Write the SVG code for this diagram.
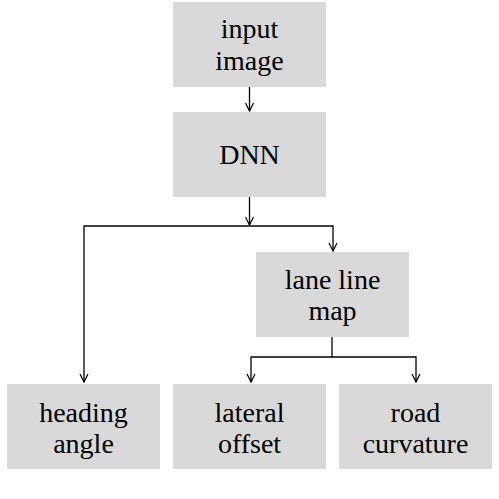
<svg xmlns="http://www.w3.org/2000/svg" width="499" height="499" viewBox="0 0 499 499">
<defs>
<marker id="arr" viewBox="0 0 10 10" refX="9" refY="5" markerWidth="10" markerHeight="10" markerUnits="userSpaceOnUse" orient="auto">
<path d="M1,1 L9,5 L1,9" fill="none" stroke="#000" stroke-width="1.2"/>
</marker>
</defs>
<style>
.box{fill:#d9d9d9;}
.t{font-family:Liberation Serif;font-size:28px;fill:#000;text-anchor:middle;}
.c{fill:none;stroke:#000;stroke-width:1.3;}
</style>
<g id="input">
<rect class="box" x="173" y="2" width="153" height="85"/>
<text class="t" x="249.5" y="38">input</text>
<text class="t" x="249.5" y="70">image</text>
</g>
<g id="dnn">
<rect class="box" x="173" y="112" width="153" height="85"/>
<text class="t" x="249.5" y="164">DNN</text>
</g>
<g id="lane">
<rect class="box" x="256" y="252" width="153" height="85"/>
<text class="t" x="332.5" y="289">lane line</text>
<text class="t" x="332.5" y="320">map</text>
</g>
<g id="heading">
<rect class="box" x="7" y="384" width="153" height="85"/>
<text class="t" x="83.5" y="422">heading</text>
<text class="t" x="83.5" y="453">angle</text>
</g>
<g id="lateral">
<rect class="box" x="173" y="384" width="153" height="85"/>
<text class="t" x="249.5" y="422">lateral</text>
<text class="t" x="249.5" y="453">offset</text>
</g>
<g id="road">
<rect class="box" x="339" y="384" width="153" height="85"/>
<text class="t" x="415.5" y="422">road</text>
<text class="t" x="415.5" y="453">curvature</text>
</g>
<g id="connectors">
<path class="c" d="M249.5,87 V111" marker-end="url(#arr)"/>
<path class="c" d="M249.5,197 V225" marker-end="url(#arr)"/>
<path class="c" d="M249.5,226 H84 V382" marker-end="url(#arr)"/>
<path class="c" d="M249.5,226 H333 V251" marker-end="url(#arr)"/>
<path class="c" d="M332,337 V357 H251 V382" marker-end="url(#arr)"/>
<path class="c" d="M332,357 H416 V382" marker-end="url(#arr)"/>
</g>
</svg>
